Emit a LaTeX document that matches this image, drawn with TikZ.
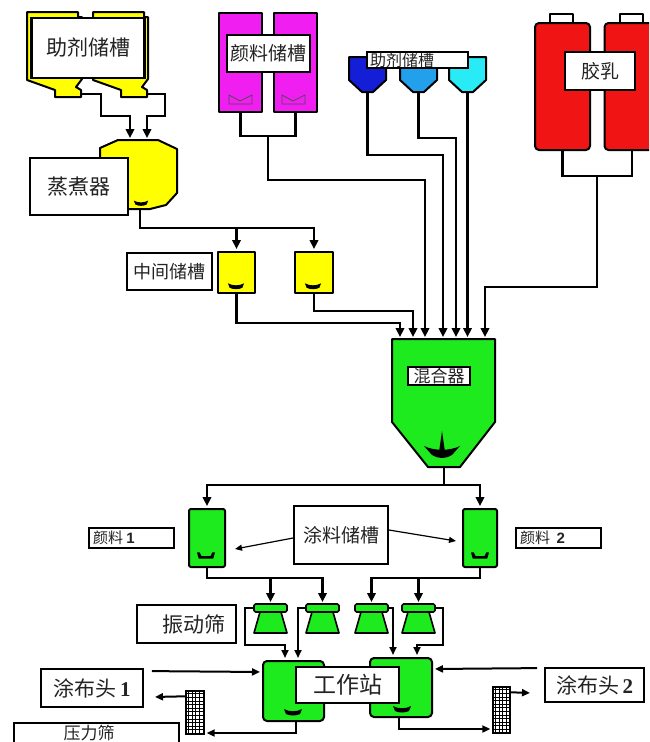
\documentclass[tikz,border=0pt]{standalone}
\usepackage{fontspec}
\newfontfamily\cjk{Noto Sans CJK SC}
\newfontfamily\latnsans{Liberation Sans}
\newfontfamily\latnserif{Liberation Serif}
\usetikzlibrary{arrows.meta,calc}

\definecolor{hopyellow}{RGB}{255,255,0}
\definecolor{pigmag}{RGB}{240,30,240}
\definecolor{latexred}{RGB}{240,20,20}
\definecolor{mixgreen}{RGB}{30,235,30}
\definecolor{addblueA}{RGB}{20,30,215}
\definecolor{addblueB}{RGB}{35,160,235}
\definecolor{addblueC}{RGB}{40,235,245}
\definecolor{lbltext}{RGB}{35,35,35}

\tikzset{
  vessel/.style={draw=black, line width=2pt, line join=round},
  pipe/.style={draw=black, line width=2.4pt},
  flow/.style={pipe, -{Triangle[length=9pt,width=8.5pt]}, shorten >=2pt},
  flowM/.style={draw=black, line width=2pt, -{Triangle[length=8pt,width=7pt]}, shorten >=2pt},
  thinflow/.style={draw=black, line width=1.2pt, -{Triangle[length=7pt,width=6pt]}},
  lbl/.style={draw=black, fill=white, line width=1.8pt, inner sep=0pt, text=lbltext},
  fs/.style={font=\cjk\fontsize{#1pt}{#1pt}\selectfont},
  screengrid/.style={draw=black, fill=white, line width=1.4pt, inner sep=0pt},
  blade/.pic={\fill[black] (-9,-3) .. controls (-4,0) and (4,0) .. (9,-3)
      -- (7,2) .. controls (3,4) and (-3,4) .. (-7,2) -- cycle;},
  cup/.pic={\fill[black] (-10,-4) -- (-7,-4) -- (-5,0) -- (5,0) -- (7,-4)
      -- (10,-4) -- (8,3) -- (-8,3) -- cycle;},
  auxhopper/.pic={\filldraw[vessel, fill=hopyellow] (0,0) -- (51,0) -- (51,5)
      -- (55,5) -- (55,67) -- (49,75) -- (54,78) -- (54,85) -- (28,85)
      -- (28,78) -- (0,68) -- cycle;},
}

\begin{document}
\begin{tikzpicture}[x=1pt,y=-1pt]
\clip (0,0) rectangle (649,742);
\fill[white] (0,0) rectangle (649,742);

% ---------- auxiliary agent hoppers (top left) ----------
\pic at (27,12) {auxhopper};
\pic at (93,12) {auxhopper};
\coordinate (hopOutA) at (81,94);
\coordinate (hopOutB) at (147,94);
\node[lbl, fs=21, line width=2.2pt, minimum width=113pt, minimum height=60pt] (auxTopLbl) at (88,48) {助剂储槽};

% ---------- steamer ----------
\filldraw[vessel, fill=hopyellow] (100,148) -- (118,140) -- (158,140) -- (177,149)
  -- (177,193) -- (166,205) -- (150,209) -- (100,209) -- cycle;
\pic[scale=0.8] at (141,203) {blade};
\coordinate (steamInA) at (130,140);
\coordinate (steamInB) at (147,140);
\coordinate (steamOut) at (140,209);
\node[lbl, fs=21, minimum width=98pt, minimum height=57pt] (steamLbl) at (79,186.5) {蒸煮器};

% ---------- intermediate tanks ----------
\node[vessel, fill=hopyellow, minimum width=37pt, minimum height=41pt] (midA) at (236.5,272.5) {};
\node[vessel, fill=hopyellow, minimum width=38pt, minimum height=41pt] (midB) at (314,272.5) {};
\pic[scale=0.9] at (236,286) {blade};
\pic[scale=0.9] at (313,286) {blade};
\node[lbl, fs=18, minimum width=85pt, minimum height=37pt] (midLbl) at (169.5,271.5) {中间储槽};

% ---------- pigment storage ----------
\node[vessel, fill=pigmag, minimum width=43pt, minimum height=99pt] (pigA) at (240.5,62.5) {};
\node[vessel, fill=pigmag, minimum width=43pt, minimum height=99pt] (pigB) at (295.5,62.5) {};
\foreach \x in {229,282}
  \draw[line width=0.8pt, black!70] (\x,95) -- (\x+11,101) -- (\x+23,95) -- (\x+23,104) -- (\x,104) -- cycle;
\node[lbl, fs=19, minimum width=83pt, minimum height=37pt] (pigLbl) at (268.5,53.5) {颜料储槽};
\coordinate (pigJoin) at (268,135);

% ---------- additive hoppers ----------
\foreach \x/\c in {349/addblueA, 400/addblueB, 449/addblueC}
  \filldraw[vessel, fill=\c] (\x,57) -- ++(37,0) -- ++(0,23) -- ++(-13,12)
    -- ++(-11,0) -- ++(-13,-12) -- cycle;
\coordinate (blueOutA) at (367.5,92);
\coordinate (blueOutB) at (418.5,92);
\coordinate (blueOutC) at (467.5,92);
\node[lbl, fs=16, line width=1.5pt, text width=95pt, inner xsep=3pt, align=left, minimum height=16pt] (addLbl) at (417.5,60) {助剂储槽};

% ---------- latex tanks ----------
\node[vessel, fill=white, line width=1.5pt, minimum width=23pt, minimum height=10pt] (capA) at (561.5,19) {};
\node[vessel, fill=white, line width=1.5pt, minimum width=23pt, minimum height=10pt] (capB) at (631.5,19) {};
\node[vessel, fill=latexred, rounded corners=4pt, minimum width=55pt, minimum height=127pt] (latA) at (562.5,86.5) {};
\node[vessel, fill=latexred, rounded corners=4pt, minimum width=55pt, minimum height=127pt] (latB) at (632,86.5) {};
\node[lbl, fs=19, minimum width=70pt, minimum height=38pt] (latLbl) at (600,71) {胶乳};
\coordinate (latJoin) at (597,175);

% ---------- mixer ----------
\filldraw[vessel, fill=mixgreen] (392,339) -- (495,339) -- (495,422) -- (460,467)
  -- (428,467) -- (392,422) -- cycle;
\fill[black] (439,452) -- (442,431) -- (445,452) -- cycle;
\fill[black] (424,446) .. controls (434,451) and (450,451) .. (460,446)
  -- (452,455) .. controls (446,459) and (438,459) .. (432,455) -- cycle;
\node[lbl, fs=17, line width=1.5pt, minimum width=62pt, minimum height=18pt] (mixLbl) at (439,376) {混合器};
\coordinate (mixOut) at (444,467);
\coordinate (mixSplit) at (444,485);
\foreach \x [count=\i] in {400,413,425,443,456,467.5,485}
  \coordinate (mixIn\i) at (\x,339);

% ---------- coating storage tanks ----------
\node[vessel, fill=mixgreen, rounded corners=2pt, minimum width=36pt, minimum height=58pt] (pstA) at (207,538) {};
\node[vessel, fill=mixgreen, rounded corners=2pt, minimum width=34pt, minimum height=58pt] (pstB) at (480,538) {};
\pic[scale=0.9] at (206,556) {cup};
\pic[scale=0.9] at (480,556) {cup};
\node[lbl, line width=1.6pt, minimum height=20pt, text width=77pt, inner xsep=4pt, align=left] (pig1Lbl) at (131.5,538)
  {\cjk\fontsize{15pt}{15pt}\selectfont 颜料 {\latnsans\bfseries 1}};
\node[lbl, line width=1.6pt, minimum height=20pt, text width=77pt, inner xsep=4pt, align=left] (pig2Lbl) at (558.5,538)
  {\cjk\fontsize{15pt}{15pt}\selectfont 颜料\ \ {\latnsans\bfseries 2}};
\node[lbl, fs=19, minimum width=94pt, minimum height=58pt] (coatLbl) at (341,535) {涂料储槽};
\coordinate (coatTipA) at (235,549);
\coordinate (coatTipB) at (456,541);

% ---------- vibrating screens ----------
\foreach \x [count=\i] in {254,306,355,402} {
  \filldraw[vessel, line width=1.6pt, fill=mixgreen] (\x+6,612) -- (\x+27,612) -- (\x+33,633) -- (\x,633) -- cycle;
  \filldraw[vessel, line width=1.6pt, fill=mixgreen, rounded corners=1.5pt] (\x,604) rectangle (\x+33,612);
  \coordinate (scrIn\i) at (\x+16.5,604);
  \coordinate (scrL\i) at (\x,608);
  \coordinate (scrR\i) at (\x+33,608);
}
\node[lbl, fs=21, minimum width=99pt, minimum height=38pt] (vibLbl) at (186.5,624) {\hspace*{14pt}振动筛};

% ---------- work stations ----------
\node[vessel, fill=mixgreen, rounded corners=4pt, minimum width=61pt, minimum height=60pt] (wsA) at (293.5,691) {};
\node[vessel, fill=mixgreen, rounded corners=4pt, minimum width=62pt, minimum height=59pt] (wsB) at (401,687.5) {};
\pic at (293,712) {blade};
\pic at (402,709) {blade};
\node[lbl, fs=23, minimum width=103pt, minimum height=36pt] (wsLbl) at (347.5,685) {工作站};

% ---------- coating heads and pressure screens ----------
\node[lbl, minimum width=102pt, minimum height=38pt] (headA) at (92,688)
  {\cjk\fontsize{21pt}{21pt}\selectfont 涂布头\,{\latnserif\bfseries 1}};
\node[lbl, minimum width=99pt, minimum height=34pt] (headB) at (594.5,685)
  {\cjk\fontsize{21pt}{21pt}\selectfont 涂布头\,{\latnserif\bfseries 2}};
\node[screengrid, minimum width=18pt, minimum height=43pt] (prsA) at (195,712.5) {};
\node[screengrid, minimum width=17pt, minimum height=46pt] (prsB) at (501.5,710) {};
\foreach \n in {prsA,prsB} {
  \foreach \k in {1,...,4}
    \draw[line width=1.1pt] ($(\n.north west)+(\k*3.5,0)$) -- ($(\n.south west)+(\k*3.5,0)$);
  \foreach \k in {1,...,12}
    \draw[line width=1.1pt] ($(\n.north west)+(0,\k*3.6)$) -- ($(\n.north east)+(0,\k*3.6)$);
}
\node[lbl, minimum width=165pt, minimum height=30pt] (prsLbl) at (96.5,738) {};
\node[fs=17, text=lbltext, inner sep=0pt] (prsTxt) at (89,733.5) {压力筛};
\coordinate (headAret) at (153,697);
\coordinate (headBret) at (532,693);

% ---------- piping ----------
\draw[flow] (hopOutA) -| (101,116) -| (steamInA);
\draw[flow] (hopOutB) -| (165,116) -| (steamInB);
\draw[flow] (steamOut) -- (140,228) -| (midB.north);
\draw[flow] (236.5,228) -- (midA.north);
\draw[flow] (midA.south) -- ++(0,29) -| (mixIn1);
\draw[flow] (midB.south) -- ++(0,17) -| (mixIn2);
\draw[pipe] (pigA.south) -- ++(0,23) -| (pigB.south);
\draw[flow] (pigJoin) |- (mixIn3 |- 0,180) -- (mixIn3);
\draw[flow] (blueOutA) |- (mixIn4 |- 0,155) -- (mixIn4);
\draw[flow] (blueOutB) |- (mixIn5 |- 0,138) -- (mixIn5);
\draw[flow] (blueOutC) -- (mixIn6);
\draw[pipe] (latA.south) -- ++(0,25) -| (latB.south);
\draw[flow] (latJoin) |- (mixIn7 |- 0,287) -- (mixIn7);

\draw[pipe] (mixOut) -- (mixSplit);
\draw[flow] (mixSplit) -| (pstA.north);
\draw[flow] (mixSplit) -| (pstB.north);
\draw[thinflow] (coatLbl.west) ++(0,3) -- (coatTipA);
\draw[thinflow] (coatLbl.east) ++(0,-5) -- (coatTipB);

\draw[flow] (pstA.south) |- (scrIn2 |- 0,578) -- (scrIn2);
\draw[flow] (scrIn1 |- 0,578) -- (scrIn1);
\draw[flow] (pstB.south) |- (scrIn3 |- 0,578) -- (scrIn3);
\draw[flow] (scrIn4 |- 0,578) -- (scrIn4);

\draw[flowM] (scrL1) -| (245,645) -| (wsA.north -| 285,0);
\draw[flowM] (scrL2) -| (wsA.north -| 298,0);
\draw[flowM] (scrR3) -| (wsB.north -| 393,0);
\draw[flowM] (scrR4) -| (443,645) -| (wsB.north -| 417,0);

\draw[flowM] ($(headA.north east)+(8,3)$) -- (wsA.west |- 0,672);
\draw[flowM] ($(headB.north west)+(-7,1)$) -- (wsB.east |- 0,669);
\draw[flowM] ($(prsA.north west)+(0,6)$) -- (headAret);
\draw[flowM] (wsA.south -| 296,0) |- (prsA.east |- 0,733);
\draw[flowM] (wsB.south -| 399,0) |- (prsB.west |- 0,729);
\draw[flowM] ($(prsB.north east)+(0,6)$) -- (headBret);
\end{tikzpicture}
\end{document}
